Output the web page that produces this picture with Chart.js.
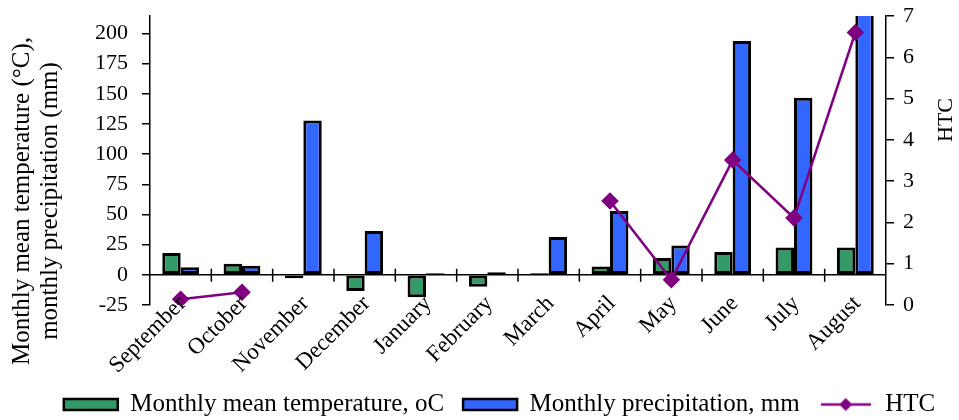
<!DOCTYPE html>
<html>
<head>
<meta charset="utf-8">
<script src="https://cdn.jsdelivr.net/npm/chart.js@4.4.1/dist/chart.umd.min.js"></script>
<style>
html, body { margin: 0; padding: 0; background: #fff; }
#wrap { width: 959px; height: 420px; }
</style>
</head>
<body>
<div id="wrap"><canvas id="climate-chart"></canvas></div>
<script>
const months = ['September', 'October', 'November', 'December', 'January', 'February',
    'March', 'April', 'May', 'June', 'July', 'August'];
const meanTemp = [18.0, 9.2, -2.8, -13.3, -18.5, -9.8, 1.3, 6.9, 13.9, 18.9, 22.7, 22.7];
const precip = [6.3, 7.5, 127.8, 36.4, 1.2, 2.2, 31.4, 52.8, 24.2, 193.6, 146.7, 230];
const htc = [0.14, 0.31, null, null, null, null, null, 2.52, 0.61, 3.51, 2.11, 6.6];
const leftTicks = [-25, 0, 25, 50, 75, 100, 125, 150, 175, 200];
const rightTicks = [0, 1, 2, 3, 4, 5, 6, 7];

const serif = "'Liberation Serif', 'Times New Roman', serif";
Chart.defaults.font.family = serif;
Chart.defaults.font.size = 22;
Chart.defaults.color = '#000';

// line + diamond icon for the HTC legend entry
const htcIcon = document.createElement('canvas');
htcIcon.width = 50;
htcIcon.height = 14;
(function () {
    const c = htcIcon.getContext('2d');
    c.strokeStyle = '#800080';
    c.fillStyle = '#800080';
    c.lineWidth = 2.5;
    c.beginPath();
    c.moveTo(0, 7);
    c.lineTo(50, 7);
    c.stroke();
    c.beginPath();
    c.moveTo(25, 0.5);
    c.lineTo(31.5, 7);
    c.lineTo(25, 13.5);
    c.lineTo(18.5, 7);
    c.closePath();
    c.fill();
})();

// zero line with category ticks, month labels hugging the plot, axis titles
const excelAxis = {
    id: 'excelAxis',
    beforeDatasetsDraw(chart) {
        const ctx = chart.ctx;
        const x = chart.scales.x;
        const y0 = chart.scales.y.getPixelForValue(0);
        const area = chart.chartArea;
        ctx.save();
        ctx.strokeStyle = '#000';
        ctx.lineWidth = 1.5;
        ctx.beginPath();
        ctx.moveTo(area.left, y0);
        ctx.lineTo(area.right, y0);
        for (let i = 0; i < months.length - 1; i++) {
            const bx = (x.getPixelForValue(i) + x.getPixelForValue(i + 1)) / 2;
            ctx.moveTo(bx, y0 - 6);
            ctx.lineTo(bx, y0 + 7);
        }
        ctx.stroke();
        ctx.restore();
    },
    afterDraw(chart) {
        const ctx = chart.ctx;
        const x = chart.scales.x;
        const area = chart.chartArea;
        ctx.save();
        ctx.fillStyle = '#000';

        ctx.font = '23px ' + serif;
        ctx.textAlign = 'right';
        ctx.textBaseline = 'middle';
        months.forEach((m, i) => {
            ctx.save();
            ctx.translate(x.getPixelForValue(i) + 2, area.bottom - 5);
            ctx.rotate(-Math.PI / 4);
            ctx.fillText(m, 0, 0);
            ctx.restore();
        });

        ctx.textAlign = 'center';
        ctx.font = '25px ' + serif;
        ctx.save();
        ctx.translate(22, 201);
        ctx.rotate(-Math.PI / 2);
        ctx.fillText('Monthly mean temperature (°C),', 0, 0);
        ctx.fillText('monthly precipitation (mm)', 0, 28);
        ctx.restore();

        ctx.font = '22px ' + serif;
        ctx.translate(946, 120);
        ctx.rotate(-Math.PI / 2);
        ctx.fillText('HTC', 0, 0);
        ctx.restore();
    }
};

function noPad(scale) {
    scale.paddingTop = 0;
    scale.paddingBottom = 0;
}

const data = {
    labels: months,
    datasets: [{
        type: 'bar',
        label: 'Monthly mean temperature, oC',
        data: meanTemp,
        backgroundColor: '#339966',
        borderColor: '#000',
        borderWidth: 3,
        borderSkipped: false,
        yAxisID: 'y',
        order: 2
    }, {
        type: 'bar',
        label: 'Monthly precipitation, mm',
        data: precip,
        backgroundColor: '#3366FF',
        borderColor: '#000',
        borderWidth: 3,
        borderSkipped: false,
        yAxisID: 'y',
        order: 2
    }, {
        type: 'line',
        label: 'HTC',
        data: htc,
        borderColor: '#800080',
        backgroundColor: '#800080',
        borderWidth: 2.5,
        pointStyle: 'rectRot',
        pointRadius: 7,
        pointHoverRadius: 7,
        spanGaps: false,
        yAxisID: 'y1',
        order: 1
    }]
};

const config = {
    type: 'bar',
    data: data,
    plugins: [excelAxis],
    options: {
        responsive: true,
        maintainAspectRatio: false,
        animation: false,
        datasets: {
            bar: { barPercentage: 1, categoryPercentage: 0.6 }
        },
        layout: {
            padding: { top: 16, left: 40, right: 0, bottom: -7 }
        },
        plugins: {
            tooltip: { enabled: false },
            legend: {
                position: 'bottom',
                labels: {
                    usePointStyle: true,
                    pointStyleWidth: 54,
                    boxHeight: 11,
                    padding: 19,
                    font: { size: 25 },
                    sort: (a, b) => a.datasetIndex - b.datasetIndex,
                    generateLabels(chart) {
                        const items = Chart.defaults.plugins.legend.labels.generateLabels(chart);
                        items.forEach(it => {
                            if (it.datasetIndex < 2) {
                                it.pointStyle = 'rect';
                                it.strokeStyle = '#000';
                                it.lineWidth = 2.5;
                            } else {
                                it.pointStyle = htcIcon;
                            }
                        });
                        return items;
                    }
                }
            }
        },
        scales: {
            x: {
                grid: { display: false, drawTicks: false },
                border: { display: false },
                ticks: { display: false },
                afterFit(scale) {
                    scale.height = 68;
                    scale.paddingLeft = 0;
                    scale.paddingRight = 0;
                }
            },
            y: {
                position: 'left',
                min: -25,
                max: 214.4,
                afterBuildTicks(scale) { scale.ticks = leftTicks.map(v => ({ value: v })); },
                grid: { drawOnChartArea: false, color: '#000', tickLength: 8, lineWidth: 1.5 },
                border: { color: '#000', width: 1.5 },
                ticks: { padding: 14, font: { size: 22 } },
                afterFit(scale) { scale.width = 110; noPad(scale); }
            },
            y1: {
                position: 'right',
                min: 0,
                max: 7,
                afterBuildTicks(scale) { scale.ticks = rightTicks.map(v => ({ value: v })); },
                grid: { drawOnChartArea: false, color: '#000', tickLength: 8, lineWidth: 1.5 },
                border: { color: '#000', width: 1.5 },
                ticks: { padding: 9, font: { size: 22 } },
                afterFit(scale) { scale.width = 73; noPad(scale); }
            }
        }
    }
};

var climateChart = new Chart(document.getElementById('climate-chart'), config);
</script>
</body>
</html>
